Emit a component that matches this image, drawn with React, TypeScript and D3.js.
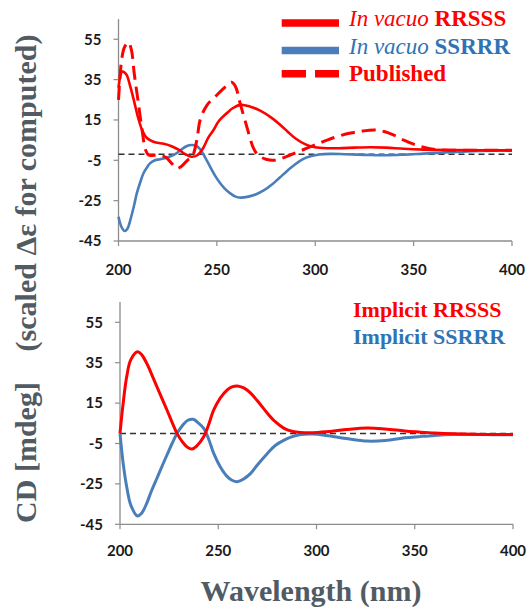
import React from "react";
import * as d3 from "d3";

// ---------- data ----------
const xTicks = [200, 250, 300, 350, 400];
const yTicks = [55, 35, 15, -5, -25, -45];

// Top panel: in vacuo computed spectra and published spectrum
const vacuoRRSSS: [number, number][] = [
  [200, 31], [202, 39], [204, 37.5], [206, 31.5], [208, 24], [210, 16], [212, 10],
  [214, 6.5], [216, 5], [219, 3.8], [223, 3.2], [227, 2], [231, 0], [234, -2],
  [237, -3.2], [240, -2.5], [243, 1], [245.5, 6], [248.3, 10], [251, 14.5],
  [255, 18.3], [258, 20.8], [262, 22.5], [267, 21.6], [272, 19.6], [277.5, 16.3],
  [282, 12.8], [286, 9.2], [290, 5.8], [294.8, 3], [298, 1.9], [304, 1.1], [312, 1],
  [320, 1.3], [328, 1.5], [336, 1.3], [345, 0.7], [355, 0.3], [370, 0.1], [385, 0], [400, 0],
];
const vacuoSSRRR: [number, number][] = [
  [200, -33], [201.5, -38], [203, -40], [204.5, -39], [206, -34.6], [208, -27],
  [209.3, -21.4], [211, -16], [212.7, -11.4], [214.5, -8.5], [216, -6.5], [218.5, -5],
  [221, -4.5], [224, -3.8], [226.5, -3], [229, -1.8], [231.5, 0], [234.5, 2],
  [237.3, 2.6], [239.5, 2.2], [241.5, 0.5], [244, -3.5], [246.6, -8.2], [249, -12.5],
  [251.7, -16.4], [254, -19], [256.8, -21.4], [259.5, -23], [262, -23.5], [266, -23],
  [270, -21.8], [274, -19.8], [278, -17], [282, -13.5], [286, -10], [290, -6.8],
  [294, -4.3], [298, -2.9], [302, -2.1], [308, -1.8], [315, -2], [325, -2.3], [335, -2.5],
  [345, -2.2], [355, -1.7], [365, -1.2], [375, -0.7], [385, -0.4], [400, -0.2],
];
const published: [number, number][] = [
  [200, 25], [201.5, 44], [203, 51], [205, 53.5], [206.5, 50], [208, 38], [210, 24],
  [212, 10], [213.8, 0], [215.5, -2.5], [218, -2.5], [221, -2.5], [224, -3.5],
  [227, -6.5], [229.5, -9], [232, -8], [235, -5], [237.5, -3], [239.8, 5],
  [241.5, 15], [245, 22.4], [250, 27.4], [255, 32], [257.5, 33.7], [259.5, 31.5],
  [261.8, 23.3], [265.2, 11.7], [268.6, 1], [271, -2.5], [275, -4.5], [279, -5],
  [283, -4], [287, -2.5], [292, -0.5], [297, 1.5], [302, 3.5], [306, 5], [312, 7],
  [318, 8.5], [324, 9.5], [330, 10], [335, 9.3], [340, 7.5], [345, 5], [350, 3],
  [356, 1.2], [362, 0.3], [370, 0], [385, 0], [400, 0],
];

// Bottom panel: implicit solvent computed spectra
const implicitRRSSS: [number, number][] = [
  [200, 0], [201.5, 14], [203.4, 28], [205.5, 36.5], [208.9, 40.4], [211, 39],
  [213.6, 34.7], [216, 29.5], [218.8, 23.1], [221.5, 17], [223.9, 11.6], [226.5, 5.5],
  [229, 0], [232, -4.5], [234.5, -7], [236.7, -7.7], [239, -6.3], [242.6, -1.7],
  [245, 4], [247.7, 11.6], [251, 17.5], [254.6, 21.5], [257, 23], [259.7, 23.5],
  [263, 22.5], [266.5, 19.9], [270, 16], [275, 10], [279, 5.8], [283.5, 2.5],
  [288, 0.9], [292, 0.4], [298, 0.3], [305, 0.8], [315, 1.9], [326, 2.7], [335, 2.2],
  [345, 1.2], [352, 0.7], [360, 0.2], [370, -0.2], [385, -0.5], [400, -0.6],
];
const implicitSSRRR: [number, number][] = [
  [200, 0], [201.5, -14], [203.4, -26.4], [205.5, -35.5], [208.9, -40.9], [211, -39.5],
  [213.6, -34.6], [216, -28.5], [218.8, -22.2], [221.5, -16], [223.9, -10.7],
  [226.5, -5], [229, 0], [232, 4.2], [234.5, 6.5], [237.2, 7], [239.5, 5.5],
  [242.6, 2.5], [245, -2.5], [247.7, -9.9], [251, -16.5], [254.6, -21.4], [257, -23.2],
  [259.7, -23.9], [263, -22.5], [266.5, -19.8], [270, -15.5], [275, -9.9], [279, -6],
  [283.5, -3.3], [288, -1.5], [292, -0.5], [298, -0.3], [305, -1], [315, -2.5],
  [326, -3.8], [335, -3.5], [345, -2.2], [352, -1.6], [360, -1], [370, -0.6],
  [385, -0.6], [400, -0.7],
];

const topBaseline = -2;
const bottomBaseline = 0;

// ---------- styling ----------
const RED = "#ff0000";
const BLUE = "#4a7ebb";
const BLUE_TEXT = "#2e74b5";
const AXIS = "#8c8c8c";
const TITLE = "#515b64";
const SERIF = "Liberation Serif, serif";
const SANS = "Lato, sans-serif";

type Series = { data: [number, number][]; color: string; width: number; dash?: string };

function Panel({ x0, x1, yb, yt, series, baseline, tickBaseline }: {
  x0: number; x1: number; yb: number; yt: number; series: Series[]; baseline: number; tickBaseline: number;
}) {
  const x = d3.scaleLinear().domain([200, 400]).range([x0, x1]);
  const y = d3.scaleLinear().domain([-45, 65]).range([yb, yt]);
  const line = d3.line<[number, number]>()
    .x((d) => x(d[0]))
    .y((d) => y(d[1]))
    .curve(d3.curveCatmullRom.alpha(0.5));
  return (
    <g>
      <line x1={x0} x2={x0} y1={y(65)} y2={yb} stroke={AXIS} strokeWidth={1.3} />
      <line x1={x0} x2={x1} y1={yb} y2={yb} stroke={AXIS} strokeWidth={1.3} />
      {yTicks.map((t) => (
        <g key={"y" + t}>
          <line x1={x0 - 5} x2={x0} y1={y(t)} y2={y(t)} stroke={AXIS} strokeWidth={1.2} />
          <text x={x0 - 17} y={y(t) + 5.3} textAnchor="end" fontFamily={SANS} fontWeight={700}
            fontSize={15} fill="#1a1a1a">{t}</text>
        </g>
      ))}
      {xTicks.map((t) => (
        <g key={"x" + t}>
          <line x1={x(t)} x2={x(t)} y1={yb} y2={yb + 5} stroke={AXIS} strokeWidth={1.2} />
          <text x={x(t)} y={tickBaseline} textAnchor="middle" fontFamily={SANS} fontWeight={700}
            fontSize={15} fill="#1a1a1a">{t}</text>
        </g>
      ))}
      <line x1={x0} x2={x1} y1={y(baseline)} y2={y(baseline)} stroke="#333" strokeWidth={1.5}
        strokeDasharray="6,4" />
      {series.map((s, i) => (
        <path key={i} d={line(s.data) || ""} fill="none" stroke={s.color} strokeWidth={s.width}
          strokeDasharray={s.dash} strokeLinejoin="round" />
      ))}
    </g>
  );
}

export default function App() {
  return (
    <svg width={531} height={608} style={{ position: "absolute", left: 0, top: 0, background: "#fff" }}>
      <rect width={531} height={608} fill="#fff" />
      <Panel x0={118.5} x1={512} yb={241} yt={19.1} baseline={topBaseline} tickBaseline={275}
        series={[
          { data: vacuoSSRRR, color: BLUE, width: 2.6 },
          { data: vacuoRRSSS, color: RED, width: 2.6 },
          { data: published, color: RED, width: 3, dash: "14,7" },
        ]} />
      <Panel x0={120} x1={513} yb={524.3} yt={302.1} baseline={bottomBaseline} tickBaseline={556}
        series={[
          { data: implicitSSRRR, color: BLUE, width: 3 },
          { data: implicitRRSSS, color: RED, width: 3 },
        ]} />

      <g style={{ fontFamily: SERIF }}>
        {/* top legend */}
        <line x1={281.7} x2={339} y1={23} y2={23} stroke={RED} strokeWidth={7.5} />
        <text x={349} y={26} fontSize={23} fontWeight="bold" fill={RED}>
          <tspan fontStyle="italic" fontWeight="normal">In vacuo</tspan> RRSSS
        </text>
        <line x1={281.7} x2={339} y1={50.5} y2={50.5} stroke={BLUE} strokeWidth={7.5} />
        <text x={349} y={53.5} fontSize={23} fontWeight="bold" fill={BLUE_TEXT}>
          <tspan fontStyle="italic" fontWeight="normal">In vacuo</tspan> SSRRR
        </text>
        <line x1={281.7} x2={339} y1={73.7} y2={73.7} stroke={RED} strokeWidth={7.5} strokeDasharray="24.3,9" />
        <text x={349} y={81} fontSize={23} fontWeight="bold" fill={RED}>Published</text>

        {/* bottom legend */}
        <text x={353} y={316.7} fontSize={22} fontWeight="bold" fill={RED}>Implicit RRSSS</text>
        <text x={353} y={343.5} fontSize={22} fontWeight="bold" fill={BLUE_TEXT}>Implicit SSRRR</text>

        {/* axis titles */}
        <text transform="translate(36,193) rotate(-90)" textAnchor="middle"
          fontSize={30} fontWeight="bold" fill={TITLE}>(scaled Δε for computed)</text>
        <text transform="translate(36,452.5) rotate(-90)" textAnchor="middle"
          fontSize={30} fontWeight="bold" fill={TITLE}>CD [mdeg]</text>
        <text x={311} y={601} textAnchor="middle" fontSize={30} fontWeight="bold"
          fill={TITLE}>Wavelength (nm)</text>
      </g>
    </svg>
  );
}
